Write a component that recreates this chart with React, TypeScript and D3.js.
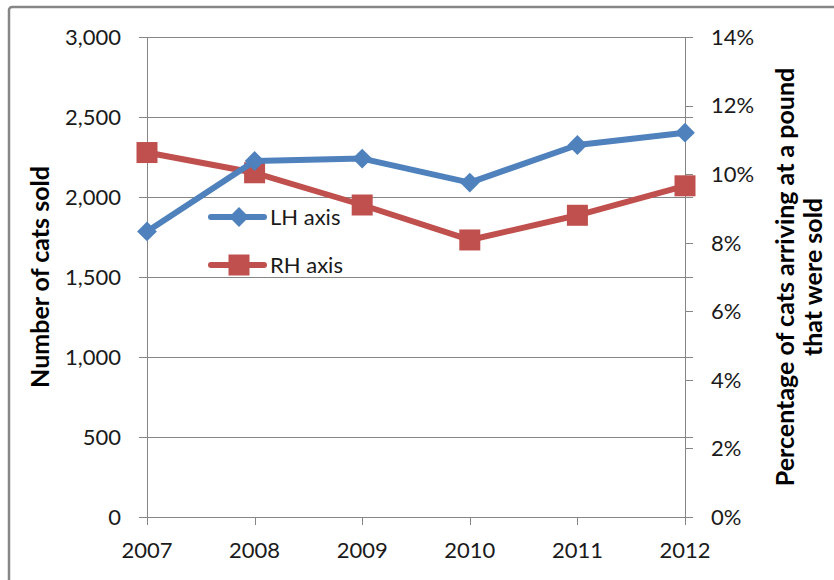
import * as d3 from "d3";
import { useEffect, useRef } from "react";

const years = ["2007", "2008", "2009", "2010", "2011", "2012"];
const catsSold = [1785, 2225, 2240, 2090, 2325, 2402];
const pctSold = [10.63, 10.04, 9.1, 8.08, 8.8, 9.66];
const leftTicks = [0, 500, 1000, 1500, 2000, 2500, 3000];
const rightTicks = [0, 2, 4, 6, 8, 10, 12, 14];

const BLUE = "#4F81BD";
const RED = "#C0504D";
const GRID = "#868686";
const FONT = "Lato, 'Open Sans', sans-serif";

export default function App() {
	const svgRef = useRef<SVGSVGElement>(null);

	useEffect(() => {
		if (!svgRef.current) return;
		const svg = d3.select(svgRef.current);
		svg.selectAll("*").remove();

		const x = d3.scalePoint().domain(years).range([147, 685]);
		const yL = d3.scaleLinear().domain([0, 3000]).range([517, 37]);
		const yR = d3.scaleLinear().domain([0, 14]).range([517, 37]);

		// outer border
		svg.append("rect")
			.attr("x", 9)
			.attr("y", 7)
			.attr("width", 900)
			.attr("height", 700)
			.attr("rx", 3)
			.attr("fill", "white")
			.attr("stroke", GRID)
			.attr("stroke-width", 2.5);

		// gridlines
		svg.append("g")
			.selectAll("line")
			.data(leftTicks)
			.join("line")
			.attr("x1", 139)
			.attr("x2", 693)
			.attr("y1", (d) => Math.round(yL(d)) + 0.5)
			.attr("y2", (d) => Math.round(yL(d)) + 0.5)
			.attr("stroke", GRID)
			.attr("stroke-width", 1);

		// axis lines
		svg.append("line")
			.attr("x1", 147.5).attr("x2", 147.5)
			.attr("y1", 37).attr("y2", 525)
			.attr("stroke", GRID);
		svg.append("line")
			.attr("x1", 685.5).attr("x2", 685.5)
			.attr("y1", 37).attr("y2", 525)
			.attr("stroke", GRID);
		// right ticks
		svg.append("g")
			.selectAll("line")
			.data(rightTicks)
			.join("line")
			.attr("x1", 685)
			.attr("x2", 693)
			.attr("y1", (d) => Math.round(yR(d)) + 0.5)
			.attr("y2", (d) => Math.round(yR(d)) + 0.5)
			.attr("stroke", GRID);
		// x ticks
		svg.append("g")
			.selectAll("line")
			.data(years)
			.join("line")
			.attr("x1", (d) => Math.round(x(d) ?? 0) + 0.5)
			.attr("x2", (d) => Math.round(x(d) ?? 0) + 0.5)
			.attr("y1", 517)
			.attr("y2", 525)
			.attr("stroke", GRID);

		// tick labels
		const fmt = d3.format(",");
		svg.append("g")
			.selectAll("text")
			.data(leftTicks)
			.join("text")
			.attr("x", 121)
			.attr("y", (d) => yL(d))
			.attr("dy", "0.36em")
			.attr("text-anchor", "end")
			.style("font-family", FONT)
			.style("font-size", "22px")
			.style("fill", "#1a1a1a")
			.text((d) => fmt(d));
		svg.append("g")
			.selectAll("text")
			.data(rightTicks)
			.join("text")
			.attr("x", 711)
			.attr("y", (d) => yR(d))
			.attr("dy", "0.36em")
			.style("font-family", FONT)
			.style("font-size", "22px")
			.style("fill", "#1a1a1a")
			.text((d) => `${d}%`);
		svg.append("g")
			.selectAll("text")
			.data(years)
			.join("text")
			.attr("x", (d) => x(d) ?? 0)
			.attr("y", 558)
			.attr("text-anchor", "middle")
			.style("font-family", FONT)
			.style("font-size", "22px")
			.style("fill", "#1a1a1a")
			.text((d) => d);

		// axis titles
		svg.append("text")
			.attr("transform", "translate(49,277) rotate(-90)")
			.attr("text-anchor", "middle")
			.style("font-family", FONT)
			.style("font-size", "25px")
			.style("font-weight", "bold")
			.text("Number of cats sold");
		const rt = svg.append("text")
			.attr("transform", "translate(794,277) rotate(-90)")
			.attr("text-anchor", "middle")
			.style("font-family", FONT)
			.style("font-size", "25px")
			.style("font-weight", "bold");
		rt.append("tspan").attr("x", 0).attr("dy", 0).text("Percentage of cats arriving at a pound");
		rt.append("tspan").attr("x", 0).attr("dy", 28).text("that were sold");

		// lines
		const lineL = d3.line<number>()
			.x((_, i) => x(years[i]) ?? 0)
			.y((d) => yL(d));
		const lineR = d3.line<number>()
			.x((_, i) => x(years[i]) ?? 0)
			.y((d) => yR(d));

		svg.append("path")
			.attr("d", lineR(pctSold) ?? "")
			.attr("fill", "none")
			.attr("stroke", RED)
			.attr("stroke-width", 6)
			.attr("stroke-linejoin", "round");
		svg.append("g")
			.selectAll("rect")
			.data(pctSold)
			.join("rect")
			.attr("x", (_, i) => (x(years[i]) ?? 0) - 10.5)
			.attr("y", (d) => yR(d) - 10.5)
			.attr("width", 21)
			.attr("height", 21)
			.attr("fill", RED);

		svg.append("path")
			.attr("d", lineL(catsSold) ?? "")
			.attr("fill", "none")
			.attr("stroke", BLUE)
			.attr("stroke-width", 6)
			.attr("stroke-linejoin", "round");
		const diamond = d3.symbol().type(d3.symbolDiamond2).size(250);
		svg.append("g")
			.selectAll("path")
			.data(catsSold)
			.join("path")
			.attr("transform", (d, i) => `translate(${x(years[i])},${yL(d)})`)
			.attr("d", diamond() ?? "")
			.attr("fill", BLUE);

		// legend
		const legend = svg.append("g");
		const items = [
			{ label: "LH axis", color: BLUE, y: 217, shape: "diamond" },
			{ label: "RH axis", color: RED, y: 265, shape: "square" },
		];
		items.forEach((it) => {
			legend.append("line")
				.attr("x1", 211).attr("x2", 264)
				.attr("y1", it.y).attr("y2", it.y)
				.attr("stroke", it.color)
				.attr("stroke-width", 6)
				.attr("stroke-linecap", "round");
			if (it.shape === "diamond") {
				legend.append("path")
					.attr("transform", `translate(239,${it.y})`)
					.attr("d", diamond() ?? "")
					.attr("fill", it.color);
			} else {
				legend.append("rect")
					.attr("x", 228.5).attr("y", it.y - 10.5)
					.attr("width", 21).attr("height", 21)
					.attr("fill", it.color);
			}
			legend.append("text")
				.attr("x", 270)
				.attr("y", it.y)
				.attr("dy", "0.36em")
				.style("font-family", FONT)
				.style("font-size", "22px")
				.style("fill", "#1a1a1a")
				.text(it.label);
		});
	}, []);

	return (
		<svg
			ref={svgRef}
			width={834}
			height={580}
			style={{ position: "absolute", left: 0, top: 0, background: "white" }}
		/>
	);
}
